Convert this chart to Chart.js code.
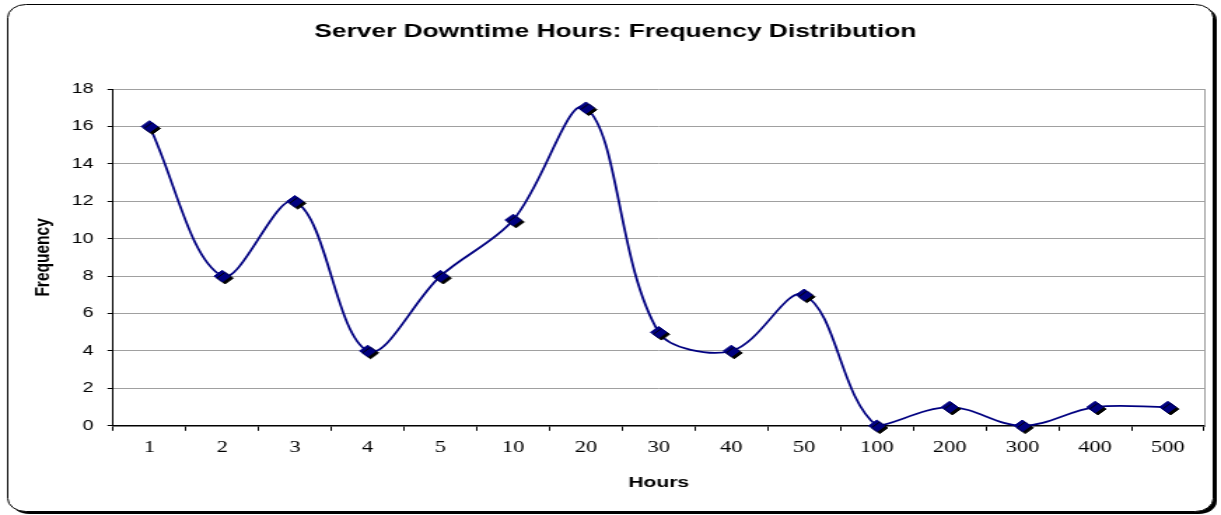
<!DOCTYPE html>
<html>
<head>
<meta charset="utf-8">
<title>Server Downtime Hours: Frequency Distribution</title>
<script src="https://cdn.jsdelivr.net/npm/chart.js@4/dist/chart.umd.min.js"></script>
<style>
  html, body { margin: 0; padding: 0; background: #fff; }
  /* the original is an Excel chart stretched sideways, so the canvas is drawn narrow and shown wide */
  #downtimeChart { display: block; width: 1221px !important; height: 515px !important; }
</style>
</head>
<body>
<canvas id="downtimeChart" width="872" height="515"></canvas>
<script>
const hours = ['1', '2', '3', '4', '5', '10', '20', '30', '40', '50', '100', '200', '300', '400', '500'];
const frequency = [16, 8, 12, 4, 8, 11, 17, 5, 4, 7, 0, 1, 0, 1, 1];
const yMin = 0;
const yMax = 18;
const yStep = 2;

const navy = '#000080';
const sans = "'Liberation Sans', Arial, sans-serif";
const serif = "'Liberation Serif', 'Times New Roman', serif";

// rounded frame with the dark drop shadow, like the Excel chart area
const framePlugin = {
  id: 'frame',
  beforeDraw(chart) {
    const ctx = chart.ctx;
    const x = 5, y = 4, w = chart.width - 11, h = chart.height - 8, r = 13;
    ctx.save();
    ctx.fillStyle = '#000';
    ctx.beginPath();
    ctx.roundRect(x + 3, y + 3, w, h, r);
    ctx.fill();
    ctx.fillStyle = '#fff';
    ctx.strokeStyle = '#000';
    ctx.lineWidth = 1;
    ctx.beginPath();
    ctx.roundRect(x + 0.5, y + 0.5, w, h, r);
    ctx.fill();
    ctx.stroke();
    ctx.restore();
  },
  beforeDatasetsDraw(chart) {
    // grey border on the right of the plot area
    const ctx = chart.ctx;
    const area = chart.chartArea;
    ctx.save();
    ctx.strokeStyle = '#a0a0a0';
    ctx.lineWidth = 1;
    ctx.beginPath();
    ctx.moveTo(Math.round(area.right) + 0.5, area.top);
    ctx.lineTo(Math.round(area.right) + 0.5, area.bottom);
    ctx.stroke();
    ctx.restore();
  }
};

// black shadow under the diamond markers
const markerShadow = {
  id: 'markerShadow',
  beforeDatasetDraw(chart, args) {
    if (args.index !== 1) return;
    const ctx = chart.ctx;
    ctx.save();
    ctx.shadowColor = '#000';
    ctx.shadowOffsetX = 2;
    ctx.shadowOffsetY = 2;
    ctx.shadowBlur = 0;
  },
  afterDatasetDraw(chart, args) {
    if (args.index !== 1) return;
    chart.ctx.restore();
  }
};

new Chart(document.getElementById('downtimeChart'), {
  type: 'line',
  data: {
    labels: hours,
    datasets: [
      {
        data: frequency,
        borderColor: navy,
        borderWidth: 1.75,
        tension: 0.35,
        pointRadius: 0,
        clip: false,
        order: 1
      },
      {
        data: frequency,
        showLine: false,
        pointStyle: 'rectRot',
        pointRadius: 5.8,
        backgroundColor: navy,
        borderColor: navy,
        borderWidth: 1,
        clip: false,
        order: 0
      }
    ]
  },
  options: {
    responsive: false,
    devicePixelRatio: 1,
    animation: false,
    layout: { padding: { left: 19, right: 12, top: 10, bottom: 17 } },
    plugins: {
      legend: { display: false },
      tooltip: { enabled: false },
      title: {
        display: true,
        text: 'Server Downtime Hours: Frequency Distribution',
        color: '#000',
        font: { family: sans, size: 18.8, weight: 'bold' },
        padding: { top: 11, bottom: 45.5 }
      }
    },
    scales: {
      x: {
        offset: true,
        grid: {
          drawOnChartArea: false,
          drawTicks: true,
          tickLength: 5,
          tickColor: '#000',
          offset: true
        },
        border: { color: '#000', width: 1.5 },
        ticks: {
          color: '#000',
          padding: 7,
          font: { family: serif, size: 16 },
          maxRotation: 0,
          autoSkip: false
        },
        title: {
          display: true,
          text: 'Hours',
          color: '#000',
          font: { family: sans, size: 15, weight: 'bold' },
          padding: { top: 10, bottom: 6 }
        }
      },
      y: {
        min: yMin,
        max: yMax,
        grid: {
          color: '#a0a0a0',
          lineWidth: 1,
          tickLength: 4,
          tickColor: '#000'
        },
        border: { color: '#000', width: 1 },
        ticks: {
          stepSize: yStep,
          color: '#000',
          padding: 10,
          font: { family: sans, size: 14 }
        },
        title: {
          display: true,
          text: 'Frequency',
          color: '#000',
          font: { family: sans, size: 15.5, weight: 'bold' },
          padding: { top: 2.8, bottom: 0.8 }
        }
      }
    }
  },
  plugins: [framePlugin, markerShadow]
});
</script>
</body>
</html>
